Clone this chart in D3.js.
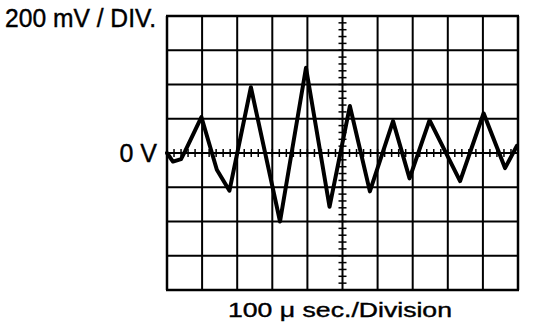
<!DOCTYPE html>
<html>
<head>
<meta charset="utf-8">
<script src="https://cdn.jsdelivr.net/npm/d3@7"></script>
<style>
  body { margin: 0; background: #fff; }
  text { font-family: "Liberation Sans", Arial, sans-serif; fill: #000; stroke: #000; stroke-width: 0.4; }
</style>
</head>
<body>
<script>
// scope trace, time in microseconds, voltage in mV
var timeUs = [0, 17, 40, 51, 98, 142, 178, 239, 322, 396, 463, 521, 578, 644, 691, 748, 835, 902, 963, 997];
var voltsMv = [0, -50, -36, 8, 210, -98, -220, 384, -400, 498, -314, 274, -224, 186, -148, 192, -164, 232, -88, 42];

var timeTicks = [0, 100, 200, 300, 400, 500, 600, 700, 800, 900, 1000];
var voltTicks = [-800, -600, -400, -200, 0, 200, 400, 600, 800];

var width = 544,
    height = 328;

var svg = d3.select('body')
  .append('svg')
  .attr('width', width)
  .attr('height', height);

var x = d3.scaleLinear().domain([0, 1000]).range([167, 518]);
var y = d3.scaleLinear().domain([-800, 800]).range([290, 16]);

var grid = svg.append('g').attr('class', 'grid');

grid.selectAll('.vline')
  .data(timeTicks)
  .enter()
  .append('line')
  .attr('x1', function(d) { return x(d); })
  .attr('x2', function(d) { return x(d); })
  .attr('y1', y(800))
  .attr('y2', y(-800))
  .attr('stroke', '#000')
  .attr('stroke-width', function(d) { return (d == 0 || d == 1000) ? 2.5 : 2; });

grid.selectAll('.hline')
  .data(voltTicks)
  .enter()
  .append('line')
  .attr('y1', function(d) { return y(d); })
  .attr('y2', function(d) { return y(d); })
  .attr('x1', x(0) - 1)
  .attr('x2', x(1000) + 1)
  .attr('stroke', '#000')
  .attr('stroke-width', function(d) { return (d == 800 || d == -800) ? 2.5 : 2; });

// minor ticks on the centre cross
var minorT = d3.range(0, 1001, 20);
var minorV = d3.range(-800, 801, 40);

grid.selectAll('.mt')
  .data(minorT)
  .enter()
  .append('line')
  .attr('x1', function(d) { return x(d); })
  .attr('x2', function(d) { return x(d); })
  .attr('y1', y(0) - 4)
  .attr('y2', y(0) + 4)
  .attr('stroke', '#000')
  .attr('stroke-width', 1.5);

grid.selectAll('.mv')
  .data(minorV)
  .enter()
  .append('line')
  .attr('y1', function(d) { return y(d); })
  .attr('y2', function(d) { return y(d); })
  .attr('x1', x(500) - 4)
  .attr('x2', x(500) + 4)
  .attr('stroke', '#000')
  .attr('stroke-width', 1.5);

var trace = d3.line()
  .x(function(d, i) { return x(timeUs[i]); })
  .y(function(d) { return y(d); });

svg.append('path')
  .datum(voltsMv)
  .attr('d', trace)
  .attr('fill', 'none')
  .attr('stroke', '#000')
  .attr('stroke-width', 4)
  .attr('stroke-linejoin', 'round')
  .attr('stroke-linecap', 'round');

svg.append('text')
  .attr('x', 5)
  .attr('y', 27)
  .attr('font-size', 25)
  .attr('textLength', 151)
  .attr('lengthAdjust', 'spacingAndGlyphs')
  .text('200 mV / DIV.');

svg.append('text')
  .attr('x', 157)
  .attr('y', y(0) + 9)
  .attr('font-size', 25)
  .attr('text-anchor', 'end')
  .text('0 V');

svg.append('text')
  .attr('x', 228)
  .attr('y', 317)
  .attr('font-size', 21)
  .attr('textLength', 224)
  .attr('lengthAdjust', 'spacingAndGlyphs')
  .text('100 \u03bc sec./Division');
</script>
</body>
</html>
